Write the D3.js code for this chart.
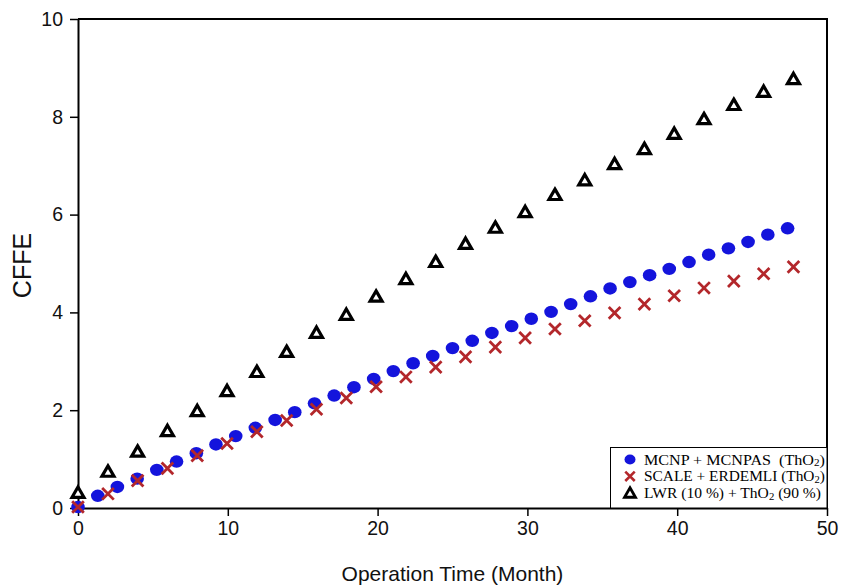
<!DOCTYPE html>
<html>
<head>
<meta charset="utf-8">
<script src="https://cdn.jsdelivr.net/npm/d3@7"></script>
<style>
  body { margin: 0; background: #fff; }
  svg { display: block; }
</style>
</head>
<body>
<svg id="chart" width="844" height="587"></svg>
<script>
// MCNP + MCNPAS (ThO2)
const mcnpX = [0, 1.32, 2.63, 3.95, 5.26, 6.58, 7.9, 9.21, 10.53, 11.84, 13.16, 14.47, 15.79, 17.1, 18.42, 19.74,
  21.05, 22.37, 23.68, 25.0, 26.32, 27.63, 28.95, 30.26, 31.58, 32.89, 34.21, 35.52, 36.84, 38.16, 39.47, 40.79,
  42.1, 43.42, 44.73, 46.05, 47.37];
const mcnpY = [0.02, 0.25, 0.43, 0.6, 0.78, 0.95, 1.12, 1.3, 1.47, 1.64, 1.8, 1.96, 2.14, 2.3, 2.47, 2.64,
  2.8, 2.96, 3.11, 3.27, 3.42, 3.58, 3.72, 3.87, 4.01, 4.17, 4.33, 4.49, 4.62, 4.76, 4.89, 5.03,
  5.18, 5.31, 5.44, 5.59, 5.72];

// SCALE + ERDEMLI (ThO2) and LWR (10 %) + ThO2 (90 %) share the same time steps
const stepX = [0, 2.0, 3.98, 5.97, 7.96, 9.95, 11.94, 13.93, 15.92, 17.91, 19.9, 21.89, 23.88, 25.87,
  27.86, 29.85, 31.84, 33.83, 35.82, 37.81, 39.8, 41.79, 43.78, 45.77, 47.76];
const scaleY = [0.02, 0.29, 0.56, 0.81, 1.07, 1.32, 1.56, 1.79, 2.02, 2.25, 2.48, 2.68, 2.88, 3.09,
  3.29, 3.48, 3.66, 3.83, 3.99, 4.17, 4.34, 4.5, 4.64, 4.79, 4.93];
const lwrY = [0.31, 0.74, 1.15, 1.57, 1.98, 2.39, 2.78, 3.19, 3.58, 3.95, 4.32, 4.68, 5.03, 5.4,
  5.73, 6.05, 6.4, 6.7, 7.03, 7.34, 7.65, 7.95, 8.24, 8.51, 8.77];

const xTicks = [0, 10, 20, 30, 40, 50];
const yTicks = [0, 2, 4, 6, 8, 10];

const blue = "#1414dc";
const red = "#b3272b";

const svg = d3.select("#chart");
const margin = { left: 78, right: 17, top: 19, bottom: 79 };
const width = 844, height = 587;

const x = d3.scaleLinear().domain([0, 50]).range([margin.left, width - margin.right]);
const y = d3.scaleLinear().domain([0, 10]).range([height - margin.bottom, margin.top]);

// axes
const xAxis = svg.append("g")
    .attr("transform", `translate(0,${y(0)})`)
    .call(d3.axisBottom(x).tickValues(xTicks).tickSize(8).tickPadding(5).tickSizeOuter(0));
const yAxis = svg.append("g")
    .attr("transform", `translate(${x(0)},0)`)
    .call(d3.axisLeft(y).tickValues(yTicks).tickSize(8).tickPadding(7).tickSizeOuter(0));

[xAxis, yAxis].forEach(a => {
  a.select(".domain").attr("stroke", "#000").attr("stroke-width", 2);
  a.selectAll(".tick line").attr("stroke", "#000").attr("stroke-width", 1.5);
  a.selectAll(".tick text")
    .style("font-family", "Liberation Sans, Arial, sans-serif")
    .style("font-size", "19.5px")
    .attr("fill", "#111");
});

// frame top and right
svg.append("path")
    .attr("d", `M${x(0)},${y(10)}H${x(50)}V${y(0)}`)
    .attr("fill", "none")
    .attr("stroke", "#000")
    .attr("stroke-width", 2);

// axis titles
svg.append("text")
    .attr("x", (x(0) + x(50)) / 2)
    .attr("y", 581)
    .attr("text-anchor", "middle")
    .style("font-family", "Liberation Sans, Arial, sans-serif")
    .style("font-size", "21px")
    .attr("fill", "#111")
    .text("Operation Time (Month)");

svg.append("text")
    .attr("transform", `translate(31,${(y(0) + y(10)) / 2 + 2}) rotate(-90)`)
    .attr("text-anchor", "middle")
    .style("font-family", "Liberation Sans, Arial, sans-serif")
    .style("font-size", "25px")
    .attr("fill", "#111")
    .text("CFFE");

// markers
const plot = svg.append("g");

const triangle = d3.symbol().type(d3.symbolTriangle).size(62);
const times = d3.symbol().type(d3.symbolTimes).size(90);

plot.append("g")
  .selectAll("path")
  .data(stepX.map((v, i) => [v, lwrY[i]]))
  .join("path")
    .attr("transform", d => `translate(${x(d[0])},${y(d[1]) + 1})`)
    .attr("d", triangle)
    .attr("fill", "#fff")
    .attr("stroke", "#000")
    .attr("stroke-width", 3.2)
    .attr("stroke-linejoin", "miter");

plot.append("g")
  .selectAll("ellipse")
  .data(mcnpX.map((v, i) => [v, mcnpY[i]]))
  .join("ellipse")
    .attr("cx", d => x(d[0]))
    .attr("cy", d => y(d[1]))
    .attr("rx", 6.8)
    .attr("ry", 6.2)
    .attr("fill", blue);

plot.append("g")
  .selectAll("path")
  .data(stepX.map((v, i) => [v, scaleY[i]]))
  .join("path")
    .attr("transform", d => `translate(${x(d[0])},${y(d[1])})`)
    .attr("d", times)
    .attr("fill", "none")
    .attr("stroke", red)
    .attr("stroke-width", 2.8);

// legend
const legendItems = [
  { type: "circle", parts: ["MCNP + MCNPAS\u00a0\u00a0(ThO", "2", ")"], len: 181 },
  { type: "times", parts: ["SCALE + ERDEMLI (ThO", "2", ")"], len: 181 },
  { type: "triangle", parts: ["LWR (10 %) + ThO", "2", "\u00a0(90 %)"], len: 177 }
];

const lg = svg.append("g");
lg.append("rect")
    .attr("x", 610.5)
    .attr("y", 447.5)
    .attr("width", x(50) - 610.5)
    .attr("height", y(0) - 447.5)
    .attr("fill", "#fff")
    .attr("stroke", "#000")
    .attr("stroke-width", 1);

legendItems.forEach((item, i) => {
  const cy = 459.5 + i * 16.8;
  if (item.type === "circle") {
    lg.append("ellipse").attr("cx", 630).attr("cy", cy).attr("rx", 5.5).attr("ry", 5).attr("fill", blue);
  } else if (item.type === "times") {
    lg.append("path").attr("transform", `translate(630,${cy})`)
      .attr("d", d3.symbol().type(d3.symbolTimes).size(60))
      .attr("fill", "none").attr("stroke", red).attr("stroke-width", 2.6);
  } else {
    lg.append("path").attr("transform", `translate(630,${cy + 1})`)
      .attr("d", d3.symbol().type(d3.symbolTriangle).size(52))
      .attr("fill", "#fff").attr("stroke", "#000").attr("stroke-width", 2.8);
  }
  // label pieces laid out one after another, then stretched to the reference width
  const row = lg.append("g");
  let cx = 0;
  item.parts.forEach((p, k) => {
    const sub = k === 1;
    const t = row.append("text")
        .attr("x", cx)
        .attr("y", sub ? 1.5 : 0)
        .style("font-family", "Liberation Serif, Times New Roman, serif")
        .style("font-size", sub ? "10px" : "14.5px")
        .attr("fill", "#000")
        .text(p);
    cx += t.node().getComputedTextLength();
  });
  const sx = Math.min(item.len / cx, 1.6);
  row.attr("transform", `translate(644,${cy + 5}) scale(${sx},1)`);
});
</script>
</body>
</html>
